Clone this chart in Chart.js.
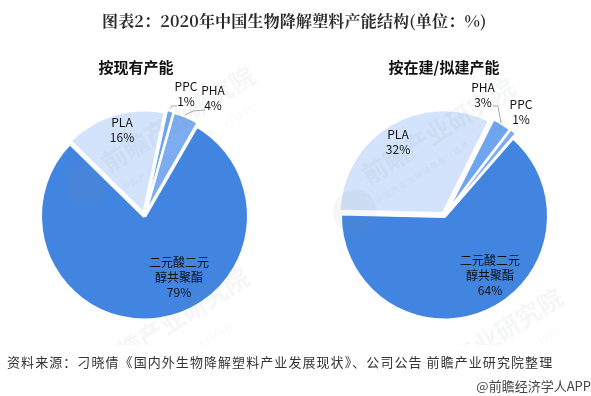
<!DOCTYPE html>
<html>
<head>
<meta charset="utf-8">
<script src="https://cdn.jsdelivr.net/npm/chart.js@4"></script>
<style>
    html, body { margin: 0; padding: 0; background: #fff; }
    #page { position: relative; width: 591px; height: 396px; overflow: hidden; font-family: "Noto Sans CJK SC", sans-serif; color: #111; }
    canvas { position: absolute; left: 0; top: 0; }
    .t { position: absolute; white-space: nowrap; }
    #title { left: 102px; top: 9px; font: bold 16px "Noto Serif CJK SC", "Liberation Serif", "Noto Sans CJK SC"; letter-spacing: 0.18px; color: #2b2b2b; }
    .sub { top: 56px; font: bold 15px "Noto Sans CJK SC"; color: #111; transform: translateX(-50%); }
    #source { left: 7px; top: 352px; font-size: 13px; color: #333; letter-spacing: 1.07px; }
    #credit { right: 0; top: 376px; font-size: 13px; color: #444; }
    #marks { position: absolute; left: 0; top: 0; width: 591px; height: 345px; overflow: hidden; }
    .wm { position: absolute; white-space: nowrap; line-height: 1; color: #7f8790; opacity: 0.08; transform: rotate(-32deg); transform-origin: left bottom; }
    .big { font-size: 25px; font-weight: bold; }
    .small { font-size: 8px; letter-spacing: 1.2px; }
    .logo { position: absolute; border-radius: 50%; background: #7f8790; opacity: 0.08; }
</style>
</head>
<body>
<div id="page">
    <canvas id="pieLeft" width="591" height="396"></canvas>
    <canvas id="pieRight" width="591" height="396"></canvas>
    <div id="marks">
        <div class="logo" style="left:65px;top:165px;width:40px;height:40px"></div>
        <div class="logo" style="left:333px;top:190px;width:44px;height:44px"></div>
        <div class="wm big" style="left:110px;top:150px">前瞻产业研究院</div>
        <div class="wm small" style="left:125px;top:184px">中国产业咨询领导者（股票：839599）</div>
        <div class="wm big" style="left:370px;top:162px">前瞻产业研究院</div>
        <div class="wm small" style="left:378px;top:197px">中国产业咨询领导者（股票：839599）</div>
        <div class="wm big" style="left:104px;top:352px">前瞻产业研究院</div>
        <div class="wm small" style="left:101px;top:404px">中国产业咨询领导者（股票：839599）</div>
        <div class="wm big" style="left:418px;top:372px">前瞻产业研究院</div>
        <div class="wm small" style="left:425px;top:410px">中国产业咨询领导者（股票：839599）</div>
    </div>
    <div class="t" id="title">图表2：2020年中国生物降解塑料产能结构(单位：%)</div>
    <div class="t sub" style="left:136px">按现有产能</div>
    <div class="t sub" style="left:444px">按在建/拟建产能</div>
    <div class="t" id="source">资料来源：刁晓倩《国内外生物降解塑料产业发展现状》、公司公告 前瞻产业研究院整理</div>
    <div class="t" id="credit">@前瞻经济学人APP</div>
</div>
<script>
const categoriesLeft = ['二元酸二元\n醇共聚酯', 'PLA', 'PPC', 'PHA'];
const valuesLeft = [79, 16, 1, 4];
const categoriesRight = ['二元酸二元\n醇共聚酯', 'PLA', 'PHA', 'PPC'];
const valuesRight = [64, 32, 3, 1];

const colorsLeft = ['#4285e0', '#d3e3fb', '#6fa5ee', '#7dadf0'];
const colorsRight = ['#4285e0', '#d3e3fb', '#6fa5ee', '#7dadf0'];

// label centres in page pixels, same order as the categories
const labelPosLeft = [[179, 277], [122, 130], [186, 94], [213, 98]];
const labelPosRight = [[490, 275], [398, 142], [483, 95], [521, 112]];
// leader lines in page pixels
const leadersLeft = [[[170, 109], [172, 106], [177, 106]], [[185, 115], [193, 111], [205, 110]]];
const leadersRight = [[[493, 106], [498, 106], [501, 123]]];

// draws the slice labels and the thin leader lines
const sliceLabels = {
    id: 'sliceLabels',
    afterDraw(chart, args, opts) {
        const ctx = chart.ctx;
        ctx.save();
        ctx.strokeStyle = '#aaa';
        ctx.lineWidth = 1;
        opts.leaders.forEach(line => {
            ctx.beginPath();
            line.forEach((p, i) => i ? ctx.lineTo(p[0], p[1]) : ctx.moveTo(p[0], p[1]));
            ctx.stroke();
        });
        ctx.fillStyle = '#111';
        ctx.font = '12px "Noto Sans CJK SC"';
        ctx.textAlign = 'center';
        ctx.textBaseline = 'middle';
        chart.data.labels.forEach((label, i) => {
            const lines = label.split('\n').concat(chart.data.datasets[0].data[i] + '%');
            const [x, y] = opts.positions[i];
            lines.forEach((line, k) => {
                ctx.fillText(line, x, y + (k - (lines.length - 1) / 2) * 15);
            });
        });
        ctx.restore();
    }
};

function makePie(id, labels, values, colors, rotation, offsets, borders, area, positions, leaders) {
    return new Chart(document.getElementById(id), {
        type: 'pie',
        data: {
            labels: labels,
            datasets: [{
                data: values,
                backgroundColor: colors,
                borderColor: '#fff',
                borderWidth: borders,
                offset: offsets
            }]
        },
        options: {
            responsive: false,
            animation: false,
            rotation: rotation,
            radius: 104.5,
            layout: { padding: area },
            plugins: {
                legend: { display: false },
                tooltip: { enabled: false },
                sliceLabels: { positions: positions, leaders: leaders }
            }
        },
        plugins: [sliceLabels]
    });
}

// padding centres each pie on its spot in the 591x396 canvas
makePie('pieLeft', categoriesLeft, valuesLeft, colorsLeft, 30, [0, 7, 7, 7], [4, 4, 1.5, 2.5],
    { left: 0, right: 302, top: 36, bottom: 0 }, labelPosLeft, leadersLeft);
makePie('pieRight', categoriesRight, valuesRight, colorsRight, 41, [0, 9, 9, 9], [4, 4, 2.5, 1.5],
    { left: 299, right: 1, top: 36, bottom: 0 }, labelPosRight, leadersRight);
</script>
</body>
</html>
